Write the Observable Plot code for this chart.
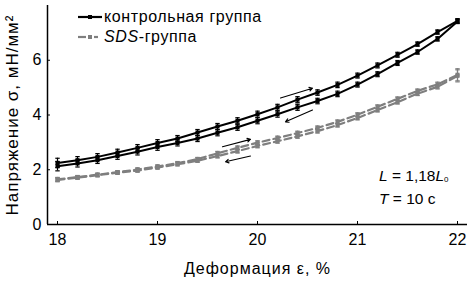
<!DOCTYPE html>
<html>
<head>
<meta charset="utf-8">
<script src="https://cdn.jsdelivr.net/npm/d3@7"></script>
<script src="https://cdn.jsdelivr.net/npm/@observablehq/plot@0.6"></script>
<style>
  html, body { margin: 0; padding: 0; background: #fff; }
  #wrap { position: relative; width: 471px; height: 281px; font-family: "Liberation Sans", Arial, sans-serif; }
  #wrap svg.plot { display: block; }
  #wrap svg.plot [aria-label="x-axis tick label"], #wrap svg.plot [aria-label="y-axis tick label"] { font-size: 16px; }
  #wrap svg.plot [aria-label="x-axis label"] { font-size: 16px; letter-spacing: 1px; }
  #wrap svg.plot [aria-label="y-axis label"] { font-size: 17px; letter-spacing: 1px; }
  .legend { position: absolute; left: 78px; top: 7px; font-size: 16px; letter-spacing: 0.6px; color: #000; }
  .legend .row { height: 20px; display: flex; align-items: center; white-space: nowrap; }
  .legend svg { width: 25px; height: 10px; margin-right: 1px; }
  .note { position: absolute; left: 379px; top: 166px; font-size: 15.5px; line-height: 19px; color: #000; }
  .note sub { font-size: 8px; vertical-align: -1px; }
</style>
</head>
<body>
<div id="wrap"></div>
<script>
// Strain values (x), %
const strain = [18.0, 18.2, 18.4, 18.6, 18.8, 19.0, 19.2, 19.4, 19.6, 19.8, 20.0,
                20.2, 20.4, 20.6, 20.8, 21.0, 21.2, 21.4, 21.6, 21.8, 22.0];
// Control group: loading (upper) and unloading (lower) stress, mN/mm²
const ctrlLoad   = [2.25, 2.35, 2.47, 2.63, 2.80, 2.98, 3.14, 3.36, 3.58, 3.79, 4.03,
                    4.28, 4.56, 4.82, 5.10, 5.44, 5.81, 6.20, 6.59, 7.03, 7.44];
const ctrlUnload = [2.13, 2.23, 2.35, 2.50, 2.66, 2.83, 2.98, 3.14, 3.35, 3.55, 3.79,
                    4.03, 4.28, 4.51, 4.77, 5.11, 5.49, 5.90, 6.30, 6.78, 7.42];
const ctrlErr    = [0.17, 0.13, 0.12, 0.12, 0.12, 0.12, 0.11, 0.11, 0.11, 0.11, 0.11,
                    0.11, 0.11, 0.10, 0.10, 0.09, 0.09, 0.09, 0.08, 0.08, 0.08];
// SDS group
const sdsLoad    = [1.65, 1.73, 1.82, 1.91, 2.01, 2.12, 2.24, 2.39, 2.60, 2.80, 2.99,
                    3.16, 3.34, 3.53, 3.75, 4.01, 4.30, 4.59, 4.88, 5.12, 5.47];
const sdsUnload  = [1.63, 1.71, 1.80, 1.89, 1.97, 2.08, 2.20, 2.33, 2.50, 2.68, 2.87,
                    3.04, 3.22, 3.41, 3.63, 3.89, 4.18, 4.47, 4.78, 5.03, 5.43];
const sdsErr     = [0.07, 0.06, 0.06, 0.06, 0.06, 0.06, 0.06, 0.06, 0.07, 0.07, 0.07,
                    0.07, 0.07, 0.07, 0.07, 0.07, 0.07, 0.07, 0.07, 0.08, 0.22];
// Direction arrows (loading → right/up, unloading ← left/down)
const arrowSeries = ["ctrl-load", "ctrl-unload", "sds-load", "sds-unload"];
const arrowX1 = [20.23, 20.55, 19.65, 19.93];
const arrowY1 = [4.62, 4.18, 2.84, 2.50];
const arrowX2 = [20.55, 20.28, 19.93, 19.68];
const arrowY2 = [4.98, 3.75, 3.11, 2.29];

const xTicks = [18, 19, 20, 21, 22];
const yTicks = [0, 2, 4, 6];
const xDomain = [17.9, 22.1];
const yDomain = [0, 8];

const colCtrl = "#000000";
const colSds = "#7f7f7f";

function rows(values, errs, group, phase) {
  return strain.map((x, i) => ({x, y: values[i], e: errs[i], group, phase, key: group + "-" + phase}));
}
const ctrlRows = [...rows(ctrlLoad, ctrlErr, "ctrl", "load"), ...rows(ctrlUnload, ctrlErr, "ctrl", "unload")];
const sdsRows = [...rows(sdsLoad, sdsErr, "sds", "load"), ...rows(sdsUnload, sdsErr, "sds", "unload")];
const arrows = arrowSeries.map((s, i) => ({s, x1: arrowX1[i], y1: arrowY1[i], x2: arrowX2[i], y2: arrowY2[i]}));

const capSymbol = {
  draw(context, size) {
    const r = Math.sqrt(size) / 2;
    context.moveTo(-r, 0);
    context.lineTo(r, 0);
  }
};

function errMarks(data, color) {
  return [
    Plot.ruleX(data, {x: "x", y1: d => d.y - d.e, y2: d => d.y + d.e, stroke: color, strokeWidth: 1.2}),
    Plot.dot(data, {x: "x", y: d => d.y - d.e, symbol: capSymbol, r: 2.5, stroke: color, strokeWidth: 1.2, fill: "none"}),
    Plot.dot(data, {x: "x", y: d => d.y + d.e, symbol: capSymbol, r: 2.5, stroke: color, strokeWidth: 1.2, fill: "none"})
  ];
}

const chart = Plot.plot({
  width: 471,
  height: 281,
  marginLeft: 47,
  marginRight: 4,
  marginTop: 5,
  marginBottom: 57,
  style: {fontFamily: "'Liberation Sans', Arial, sans-serif", fontSize: "15px", color: "#000", background: "#fff"},
  x: {domain: xDomain, ticks: xTicks},
  y: {domain: yDomain, ticks: yTicks},
  marks: [
    Plot.axisX({ticks: xTicks, tickSize: -3, tickPadding: 12, tickFormat: d => String(d),
      label: "Деформация ε, %", labelAnchor: "center", labelArrow: "none", labelOffset: 49}),
    Plot.axisY({ticks: yTicks, tickSize: -3, tickPadding: 9, tickFormat: d => String(d),
      label: "Напряжение σ, мН/мм²", labelAnchor: "center", labelArrow: "none", labelOffset: 42}),
    // SDS group (gray dashed)
    ...errMarks(sdsRows, colSds),
    Plot.line(sdsRows, {x: "x", y: "y", z: "key", stroke: colSds, strokeWidth: 2.2, strokeDasharray: "7,4"}),
    Plot.dot(sdsRows, {x: "x", y: "y", symbol: "square", r: 2.3, fill: colSds}),
    // Control group (black solid)
    ...errMarks(ctrlRows, colCtrl),
    Plot.line(ctrlRows, {x: "x", y: "y", z: "key", stroke: colCtrl, strokeWidth: 2}),
    Plot.dot(ctrlRows, {x: "x", y: "y", symbol: "square", r: 2.3, fill: colCtrl}),
    // Arrows
    Plot.arrow(arrows, {x1: "x1", y1: "y1", x2: "x2", y2: "y2", stroke: "#000", strokeWidth: 1.1, headLength: 5, bend: 0}),
    // Axis lines
    Plot.ruleX([xDomain[0]], {stroke: "#000", strokeWidth: 1.5}),
    Plot.ruleY([yDomain[0]], {stroke: "#000", strokeWidth: 1.5})
  ]
});
chart.classList.add("plot");

const wrap = document.getElementById("wrap");
wrap.appendChild(chart);

const legend = document.createElement("div");
legend.className = "legend";
legend.innerHTML = `
  <div class="row"><svg viewBox="0 0 25 10"><line x1="0" y1="5" x2="24" y2="5" stroke="${colCtrl}" stroke-width="2.2"/><rect x="10" y="3" width="4" height="4" fill="${colCtrl}"/></svg><span>контрольная группа</span></div>
  <div class="row"><svg viewBox="0 0 25 10"><line x1="0" y1="5" x2="8" y2="5" stroke="${colSds}" stroke-width="2.2"/><line x1="16" y1="5" x2="20" y2="5" stroke="${colSds}" stroke-width="2.2"/><rect x="10" y="3" width="4" height="4" fill="${colSds}"/></svg><span><i>SDS</i>-группа</span></div>`;
wrap.appendChild(legend);

const note = document.createElement("div");
note.className = "note";
note.innerHTML = `<div><i>L</i> = 1,18<i>L</i><sub>0</sub></div><div><i>T</i> = 10 с</div>`;
wrap.appendChild(note);
</script>
</body>
</html>
